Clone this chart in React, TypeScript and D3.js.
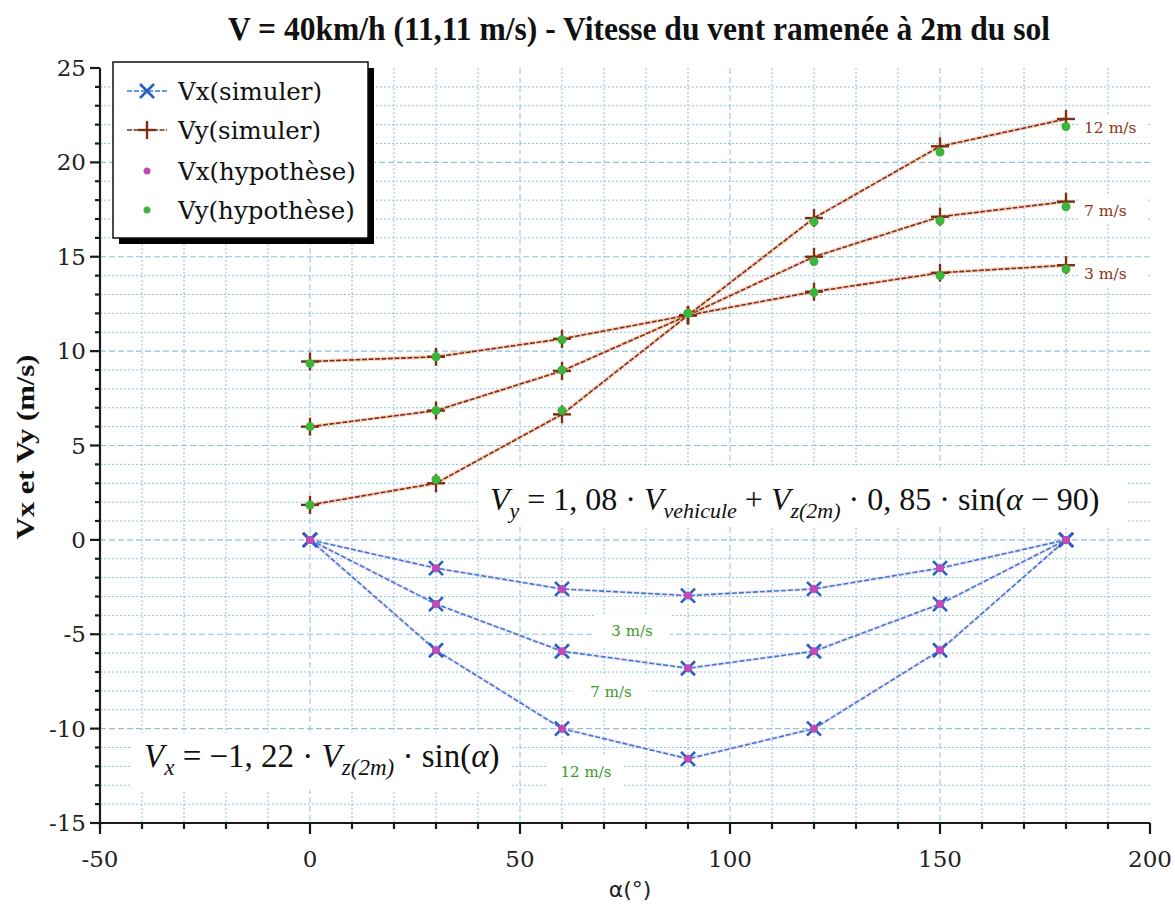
import React from "react";
import * as d3 from "d3";

const alphas = [0, 30, 60, 90, 120, 150, 180];
const windLabels = ["3 m/s", "7 m/s", "12 m/s"];

// Simulated Vx (blue x)
const vxSim3 = [0, -1.5, -2.6, -2.95, -2.6, -1.5, 0];
const vxSim7 = [0, -3.4, -5.9, -6.8, -5.9, -3.4, 0];
const vxSim12 = [0, -5.85, -10.0, -11.6, -10.0, -5.85, 0];
// Hypothesis Vx (magenta dots)
const vxHyp3 = [0, -1.5, -2.6, -2.95, -2.6, -1.5, 0];
const vxHyp7 = [0, -3.4, -5.9, -6.8, -5.9, -3.4, 0];
const vxHyp12 = [0, -5.85, -10.0, -11.6, -10.0, -5.85, 0];
// Simulated Vy (brown +)
const vySim3 = [9.45, 9.7, 10.65, 11.9, 13.15, 14.15, 14.55];
const vySim7 = [6.0, 6.85, 8.95, 11.9, 15.0, 17.12, 17.92];
const vySim12 = [1.85, 3.0, 6.65, 11.9, 17.05, 20.85, 22.3];
// Hypothesis Vy (green dots)
const vyHyp3 = [9.35, 9.7, 10.6, 12.0, 13.1, 14.0, 14.35];
const vyHyp7 = [6.0, 6.85, 9.0, 12.0, 14.75, 16.9, 17.65];
const vyHyp12 = [1.85, 3.2, 6.85, 12.0, 16.85, 20.55, 21.9];

const xTicks = d3.range(-50, 201, 10);
const yTicks = d3.range(-15, 26, 1);
const legendLabels = ["Vx(simuler)", "Vy(simuler)", "Vx(hypothèse)", "Vy(hypothèse)"];

const W = 1175, H = 909;
const x = d3.scaleLinear().domain([-50, 200]).range([100, 1150]);
const y = d3.scaleLinear().domain([-15, 25]).range([823, 68]);

const BLUE = "#2f7fd6";
const XBLUE = "#2a5fc8";
const BROWN = "#7e2e12";
const MAGENTA = "#c04ab8";
const GREEN = "#3db43a";
const GRID = "#8cc4e2";

const line = d3.line<[number, number]>().x(d => x(d[0])).y(d => y(d[1]));
const pts = (vals: number[]) => alphas.map((a, i) => [a, vals[i]] as [number, number]);

function XMark({ cx, cy, s = 7 }: { cx: number; cy: number; s?: number }) {
  return (
    <g stroke={XBLUE} strokeWidth={2.6}>
      <line x1={cx - s} y1={cy - s} x2={cx + s} y2={cy + s} />
      <line x1={cx - s} y1={cy + s} x2={cx + s} y2={cy - s} />
    </g>
  );
}
function PlusMark({ cx, cy, s = 9 }: { cx: number; cy: number; s?: number }) {
  return (
    <g stroke={BROWN} strokeWidth={2.4}>
      <line x1={cx - s} y1={cy} x2={cx + s} y2={cy} />
      <line x1={cx} y1={cy - s} x2={cx} y2={cy + s} />
    </g>
  );
}

export default function App() {
  const vxSim = [vxSim3, vxSim7, vxSim12];
  const vxHyp = [vxHyp3, vxHyp7, vxHyp12];
  const vySim = [vySim3, vySim7, vySim12];
  const vyHyp = [vyHyp3, vyHyp7, vyHyp12];
  const serif = "'DejaVu Serif', serif";
  const tex = "'Liberation Serif', serif";

  const greenLabelPos = [
    { cx: 632, cy: 631 },
    { cx: 611, cy: 692 },
    { cx: 586, cy: 772 },
  ];
  const brownLabelY = [vySim3[6], vySim7[6], vySim12[6]];

  return (
    <svg width={W} height={H} style={{ position: "absolute", left: 0, top: 0, background: "#fff" }}>
      <rect x={0} y={0} width={W} height={H} fill="#fff" />
      {/* grid */}
      <g>
        {yTicks.filter(v => v > -15 && v < 25).map(v => (
          <line key={"gy" + v} x1={x(-50)} x2={x(200)} y1={y(v)} y2={y(v)} stroke={GRID}
            strokeWidth={v % 5 === 0 ? 1.2 : 1} strokeDasharray={v % 5 === 0 ? "6,3" : "2,2"} />
        ))}
        {xTicks.filter(v => v > -50 && v < 200).map(v => (
          <line key={"gx" + v} x1={x(v)} x2={x(v)} y1={y(25)} y2={y(-15)} stroke={GRID}
            strokeWidth={1} strokeDasharray={v % 50 === 0 ? "6,3" : "2,2"} />
        ))}
      </g>

      {/* equation boxes */}
      <rect x={478} y={467} width={648} height={60} fill="#fff" />
      <rect x={132} y={733} width={380} height={57} fill="#fff" />
      <text x={490} y={510} fontFamily={tex} fontSize={32} fill="#111">
        <tspan fontStyle="italic">V</tspan>
        <tspan fontStyle="italic" fontSize={22} dy={8}>y</tspan>
        <tspan dy={-8}> = 1, 08 · </tspan>
        <tspan fontStyle="italic">V</tspan>
        <tspan fontStyle="italic" fontSize={22} dy={8}>vehicule</tspan>
        <tspan dy={-8}> + </tspan>
        <tspan fontStyle="italic">V</tspan>
        <tspan fontStyle="italic" fontSize={22} dy={8}>z(2m)</tspan>
        <tspan dy={-8}> · 0, 85 · sin(</tspan>
        <tspan fontStyle="italic">α</tspan>
        <tspan> − 90)</tspan>
      </text>
      <text x={144} y={767} fontFamily={tex} fontSize={33} fill="#111">
        <tspan fontStyle="italic">V</tspan>
        <tspan fontStyle="italic" fontSize={23} dy={8}>x</tspan>
        <tspan dy={-8}> = −1, 22 · </tspan>
        <tspan fontStyle="italic">V</tspan>
        <tspan fontStyle="italic" fontSize={23} dy={8}>z(2m)</tspan>
        <tspan dy={-8}> · sin(</tspan>
        <tspan fontStyle="italic">α</tspan>
        <tspan>)</tspan>
      </text>

      {/* green labels */}
      {greenLabelPos.map((p, i) => (
        <g key={"gl" + i}>
          <rect x={p.cx - 38} y={p.cy - 16} width={76} height={32} fill="#fff" />
          <text x={p.cx} y={p.cy + 5} textAnchor="middle" fontFamily={serif} fontSize={15} fill="#3a9a2a">
            {windLabels[i]}
          </text>
        </g>
      ))}
      {/* brown labels */}
      {brownLabelY.map((v, i) => (
        <g key={"bl" + i}>
          <rect x={1080} y={y(v) - 5} width={66} height={26} fill="#fff" />
          <text x={1084} y={y(v) + 14} fontFamily={serif} fontSize={15.5} fill="#8b3520">
            {windLabels[i]}
          </text>
        </g>
      ))}

      {/* Vy lines */}
      {vySim.map((s, i) => (
        <g key={"vyl" + i}>
          <path d={line(pts(s)) || ""} fill="none" stroke="#f2a888" strokeWidth={4} opacity={0.45} />
          <path d={line(pts(s)) || ""} fill="none" stroke={BROWN} strokeWidth={1.6} strokeDasharray="5,1.5" />
        </g>
      ))}
      {/* Vx lines */}
      {vxSim.map((s, i) => (
        <g key={"vxl" + i}>
          <path d={line(pts(s)) || ""} fill="none" stroke="#e8b0d8" strokeWidth={3.5} opacity={0.35} />
          <path d={line(pts(s)) || ""} fill="none" stroke={BLUE} strokeWidth={1.6} strokeDasharray="5,2" />
        </g>
      ))}
      {/* markers */}
      {vxSim.map((s, i) => alphas.map((a, j) => <XMark key={`xm${i}-${j}`} cx={x(a)} cy={y(s[j])} />))}
      {vxHyp.map((s, i) => alphas.map((a, j) => <circle key={`xh${i}-${j}`} cx={x(a)} cy={y(s[j])} r={4} fill={MAGENTA} />))}
      {vySim.map((s, i) => alphas.map((a, j) => <PlusMark key={`ym${i}-${j}`} cx={x(a)} cy={y(s[j])} />))}
      {vyHyp.map((s, i) => alphas.map((a, j) => <circle key={`yh${i}-${j}`} cx={x(a)} cy={y(s[j])} r={4.5} fill={GREEN} />))}

      {/* axes */}
      <g stroke="#1a1a1a" strokeWidth={2.2}>
        <line x1={x(-50)} x2={x(200)} y1={y(-15)} y2={y(-15)} />
        <line x1={x(-50)} x2={x(-50)} y1={y(25)} y2={y(-15) + 6} />
        {xTicks.map(v => (
          <line key={"xt" + v} x1={x(v)} x2={x(v)} y1={y(-15)} y2={y(-15) + (v % 50 === 0 ? 11 : 6)} />
        ))}
        {yTicks.map(v => (
          <line key={"yt" + v} x1={x(-50)} x2={x(-50) - (v % 5 === 0 ? 10 : 5)} y1={y(v)} y2={y(v)} />
        ))}
      </g>
      <g fontFamily={serif} fontSize={23} fill="#222">
        {xTicks.filter(v => v % 50 === 0).map(v => (
          <text key={"xl" + v} x={x(v)} y={867} textAnchor="middle">{v}</text>
        ))}
        {yTicks.filter(v => v % 5 === 0).map(v => (
          <text key={"yl" + v} x={86} y={y(v) + 8} textAnchor="end">{v}</text>
        ))}
      </g>
      <text x={630} y={897} textAnchor="middle" fontFamily="'DejaVu Sans', sans-serif" fontSize={22} fill="#222">α(°)</text>
      <text transform={`translate(34,447) rotate(-90)`} textAnchor="middle" fontFamily="'Liberation Serif', serif" fontWeight="bold" fontSize={26}
        textLength={185} lengthAdjust="spacingAndGlyphs" fill="#111">
        Vx et Vy (m/s)
      </text>

      {/* legend */}
      <rect x={119} y={68} width={255} height={176} fill="#000" />
      <rect x={113} y={62} width={255} height={176} fill="#fff" stroke="#111" strokeWidth={1.5} />
      {legendLabels.map((lab, i) => {
        const ly = [91, 130, 171, 210][i];
        return (
          <g key={"lg" + i}>
            {i === 0 && (
              <>
                <line x1={127} x2={167} y1={ly} y2={ly} stroke={BLUE} strokeWidth={1.6} strokeDasharray="5,2" />
                <XMark cx={147} cy={ly} />
              </>
            )}
            {i === 1 && (
              <>
                <line x1={127} x2={167} y1={ly} y2={ly} stroke={BROWN} strokeWidth={1.6} strokeDasharray="5,1.5" />
                <PlusMark cx={147} cy={ly} />
              </>
            )}
            {i === 2 && <circle cx={147} cy={ly} r={3.5} fill={MAGENTA} />}
            {i === 3 && <circle cx={147} cy={ly} r={3.5} fill={GREEN} />}
            <text x={178} y={ly + 9} fontFamily={serif} fontSize={24.5} fill="#111">{lab}</text>
          </g>
        );
      })}

      {/* title */}
      <text x={639} y={40} textAnchor="middle" fontFamily="'Liberation Serif', serif" fontWeight="bold" fontSize={33}
        textLength={822} lengthAdjust="spacingAndGlyphs" fill="#111">
        V = 40km/h (11,11 m/s) - Vitesse du vent ramenée à 2m du sol
      </text>
    </svg>
  );
}
